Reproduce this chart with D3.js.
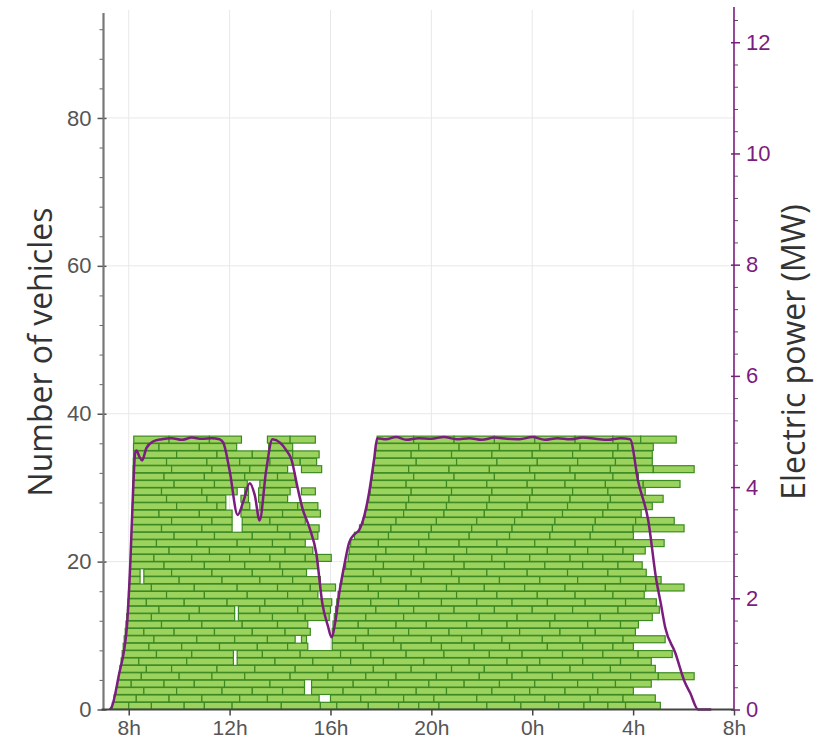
<!DOCTYPE html>
<html>
<head>
<meta charset="utf-8">
<script src="https://cdn.jsdelivr.net/npm/d3@7/dist/d3.min.js"></script>
<style>
  html, body { margin: 0; padding: 0; background: #fff; }
  svg { display: block; }
</style>
</head>
<body>
<svg id="chart" width="840" height="746"></svg>
<script>
// ---------- DATA ----------
// hour ticks (hours since midnight of day 1; >24 = next day)
const hourTicks = [8, 12, 16, 20, 24, 28, 32];
const hourLabels = ["8h", "12h", "16h", "20h", "0h", "4h", "8h"];
const vehicleTicks = [0, 20, 40, 60, 80];
const powerTicks = [0, 2, 4, 6, 8, 10, 12];

// each row = one vehicle slot; each run = consecutive charging sessions (breakpoints in hours)
const vehicleRows = [
  [[7.35, 8.0, 8.9, 10.2, 11.0, 12.1, 14.05, 15.6, 16.25, 17.5, 18.7, 19.5, 20.3, 22.2, 23.55, 25.05, 26.05, 27.0, 27.7, 29.08]],
  [[7.42, 8.3, 9.6, 10.9, 12.4, 13.5, 15.55], [16.0, 17.2, 18.9, 20.1, 21.8, 23.3, 24.5, 26.3, 27.6, 28.88]],
  [[7.5, 8.6, 9.9, 11.7, 12.9, 14.1, 14.97], [15.25, 16.5, 17.8, 19.4, 20.6, 22.4, 23.9, 25.3, 26.6, 28.01]],
  [[7.56, 8.1, 9.4, 10.6, 11.8, 13.6, 14.97], [15.25, 16.9, 18.3, 19.9, 21.3, 22.7, 24.1, 25.8, 27.3, 28.72]],
  [[7.6, 8.5, 10.0, 11.3, 12.6, 14.4, 15.9, 17.4, 18.6, 20.2, 21.9, 23.2, 24.8, 26.4, 27.9, 29.0, 30.42]],
  [[7.65, 8.7, 9.7, 11.5, 13.0, 14.6, 16.1, 17.7, 19.2, 20.8, 22.1, 23.8, 25.5, 27.1, 28.88]],
  [[7.7, 8.4, 10.3, 12.15], [12.3, 13.8, 15.3, 16.8, 18.1, 19.7, 21.5, 23.0, 24.3, 26.0, 27.5, 28.72]],
  [[7.74, 9.1, 10.5, 12.15], [12.3, 13.3, 14.8, 16.4, 17.6, 19.0, 20.5, 22.3, 23.6, 25.2, 26.8, 28.2, 29.55]],
  [[7.78, 8.8, 10.1, 11.6, 13.1, 14.3, 15.1], [16.07, 17.3, 18.8, 20.4, 21.7, 23.1, 24.6, 26.0, 27.2, 28.01]],
  [[7.82, 9.0, 10.7, 12.2, 13.5, 14.6], [14.85, 15.05], [16.07, 17.0, 18.5, 20.0, 21.2, 22.8, 24.4, 25.9, 27.6, 29.27]],
  [[7.86, 8.6, 9.8, 11.4, 12.9, 14.2, 15.2], [16.07, 17.5, 19.1, 20.7, 22.0, 23.5, 25.1, 26.5, 28.09]],
  [[7.89, 9.3, 10.9, 12.5, 13.9, 15.1], [16.1, 17.1, 18.6, 19.8, 21.4, 23.0, 24.7, 26.2, 27.5, 28.21]],
  [[7.92, 8.9, 10.4, 12.2], [12.35, 13.7, 15.0, 15.95], [16.15, 17.4, 18.9, 20.3, 21.9, 23.4, 24.9, 26.7, 28.76]],
  [[7.95, 9.2, 10.8, 12.2], [12.35, 13.2, 14.7, 16.0], [16.2, 17.8, 19.3, 20.9, 22.5, 24.0, 25.6, 27.4, 29.04]],
  [[7.97, 8.7, 10.2, 11.9, 13.4, 14.9, 16.05], [16.25, 17.6, 18.7, 20.4, 21.8, 23.2, 24.6, 26.1, 27.7, 28.92]],
  [[7.99, 9.5, 11.0, 12.7, 14.3, 15.5], [16.3, 17.9, 19.5, 21.0, 22.6, 24.2, 25.7, 27.2, 28.44]],
  [[8.01, 8.9, 10.6, 12.3, 13.9, 15.2, 16.2], [16.38, 17.5, 19.0, 20.6, 22.1, 23.7, 25.3, 26.9, 28.5, 30.02]],
  [[8.03, 8.45], [8.6, 10.0, 11.7, 13.2, 14.5, 15.6], [16.45, 18.0, 19.6, 21.1, 22.7, 24.3, 25.8, 27.5, 29.11]],
  [[8.04, 8.45], [8.6, 9.7, 11.3, 12.9, 14.1, 15.05], [16.5, 17.7, 19.2, 20.8, 22.2, 23.8, 25.4, 27.0, 28.52]],
  [[8.06, 9.4, 11.0, 12.6, 14.0, 15.5], [16.6, 18.1, 19.7, 21.3, 22.9, 24.5, 26.0, 27.4, 28.36]],
  [[8.07, 9.0, 10.5, 12.0, 13.6, 15.0, 16.03], [16.7, 17.8, 19.3, 20.9, 22.4, 23.9, 25.5, 26.8, 28.01]],
  [[8.08, 9.6, 11.2, 12.8, 14.2, 15.3], [16.74, 18.2, 19.8, 21.4, 23.0, 24.6, 26.2, 27.6, 28.48]],
  [[8.09, 9.1, 10.7, 12.3, 13.7, 15.0], [16.8, 17.9, 19.5, 21.1, 22.6, 24.1, 25.7, 27.3, 29.23]],
  [[8.1, 9.8, 11.4, 12.9, 14.4, 15.5], [16.95, 18.3, 19.9, 21.5, 23.1, 24.7, 26.3, 28.01]],
  [[8.11, 9.3, 10.9, 12.1], [12.5, 13.9, 15.55], [17.15, 18.4, 20.0, 21.6, 23.2, 24.8, 26.4, 28.0, 30.02]],
  [[8.12, 9.7, 11.3, 12.1], [12.5, 13.6, 15.0], [17.3, 18.6, 20.2, 21.8, 23.3, 24.9, 26.5, 28.1, 29.63]],
  [[8.13, 9.2, 10.8, 12.1], [12.45, 14.1, 15.6], [17.38, 18.9, 20.5, 22.1, 23.6, 25.2, 26.8, 28.32]],
  [[8.14, 9.9, 11.5, 11.85], [12.5, 12.8], [13.2, 14.7, 15.5], [17.45, 19.0, 20.6, 22.2, 23.8, 25.4, 27.0, 28.76]],
  [[8.15, 9.5, 11.1, 11.85], [12.45, 12.75], [13.15, 14.3], [17.52, 19.1, 20.7, 22.3, 23.9, 25.5, 27.1, 29.19]],
  [[8.15, 9.3, 10.9, 12.3], [12.6, 12.75], [13.15, 14.4], [14.85, 15.4], [17.58, 19.2, 20.8, 22.4, 24.0, 25.6, 27.0, 28.48]],
  [[8.16, 9.8, 11.4, 12.7], [13.2, 14.65], [17.62, 19.0, 20.6, 22.2, 23.8, 25.3, 26.9, 28.4, 29.86]],
  [[8.17, 9.4, 11.0, 12.6, 13.9, 14.6], [17.66, 19.3, 20.9, 22.5, 24.1, 25.7, 27.2, 28.21]],
  [[8.17, 9.7, 11.3, 12.8, 14.3], [14.85, 15.65], [17.7, 19.1, 20.7, 22.3, 23.9, 25.5, 27.1, 28.8, 30.42]],
  [[8.18, 9.5, 11.1, 12.4, 13.6, 14.8, 15.45], [17.73, 19.4, 21.0, 22.6, 24.2, 25.8, 27.3, 28.76]],
  [[8.19, 9.9, 11.5, 12.9, 14.5, 15.55], [17.76, 19.2, 20.8, 22.4, 24.0, 25.6, 27.2, 28.76]],
  [[8.19, 9.2, 10.8, 12.28], [13.55, 14.5], [17.8, 19.5, 21.1, 22.7, 24.3, 25.9, 27.4, 28.8]],
  [[8.2, 9.6, 11.2, 12.47], [13.5, 14.4, 15.4], [17.85, 19.3, 20.9, 22.5, 24.1, 25.7, 27.2, 28.3, 29.71]]
];

// electric power curve (MW)
const powerHours = [7.25, 7.33, 7.6, 7.93, 8.06, 8.18, 8.25, 8.31, 8.42, 8.53, 8.7, 8.96,
  9.3, 9.7, 10.1, 10.5, 10.9, 11.3, 11.6, 11.75, 12.0, 12.32, 12.55, 12.8, 13.0, 13.19,
  13.45, 13.7, 14.0, 14.25, 14.45, 14.69, 14.9, 15.16, 15.44, 15.68, 15.9, 16.04, 16.2,
  16.35, 16.55, 16.74, 16.95, 17.14, 17.35, 17.53, 17.73, 17.85, 18.2, 18.6, 19.0, 19.5,
  20.0, 20.5, 21.0, 21.5, 22.0, 22.5, 23.0, 23.5, 24.0, 24.5, 25.0, 25.5, 26.0, 26.5,
  27.0, 27.5, 27.88, 28.2, 28.6, 28.92, 29.1, 29.27, 29.67, 30.06, 30.26, 30.58, 31.1];
const powerMW = [0, 0.05, 0.6, 1.5, 2.6, 4.0, 4.6, 4.66, 4.55, 4.48, 4.7, 4.82,
  4.86, 4.88, 4.85, 4.89, 4.87, 4.88, 4.86, 4.8, 4.3, 3.5, 3.75, 4.07, 3.85, 3.4,
  4.3, 4.86, 4.8, 4.66, 4.5, 4.0, 3.6, 3.28, 2.8, 1.9, 1.5, 1.3, 1.6,
  2.1, 2.6, 3.0, 3.15, 3.23, 3.5, 3.9, 4.5, 4.88, 4.86, 4.9, 4.85, 4.88,
  4.87, 4.9, 4.86, 4.88, 4.85, 4.89, 4.87, 4.86, 4.9, 4.85, 4.88, 4.86, 4.89, 4.87,
  4.85, 4.88, 4.86, 4.1, 3.4, 2.33, 1.9, 1.48, 1.02, 0.48, 0.3, 0, 0];

// ---------- CHART ----------
const svg = d3.select("#chart");
const mLeft = 103.5, mRight = 734, mTop = 10, mBottom = 709.5;
const x = d3.scaleLinear().domain([7, 32]).range([mLeft, mRight]);
const yL = d3.scaleLinear().domain([0, 94.6]).range([mBottom, mTop]);
const yR = d3.scaleLinear().domain([0, 12.58]).range([mBottom, mTop]);
const purple = "#7b1d7f";
const font = "'Liberation Sans', Arial, sans-serif";

// grid
const grid = svg.append("g");
grid.selectAll("line.v").data(hourTicks.slice(0, -1)).join("line")
  .attr("x1", d => x(d)).attr("x2", d => x(d))
  .attr("y1", mTop).attr("y2", mBottom)
  .attr("stroke", "#e8e8e8").attr("stroke-width", 1);
grid.selectAll("line.h").data(vehicleTicks.slice(1)).join("line")
  .attr("x1", mLeft).attr("x2", mRight)
  .attr("y1", d => yL(d)).attr("y2", d => yL(d))
  .attr("stroke", "#e8e8e8").attr("stroke-width", 1);

// bars
const bars = [];
vehicleRows.forEach((runs, r) => {
  runs.forEach(run => {
    for (let i = 0; i < run.length - 1; i++) bars.push({ r, s: run[i], e: run[i + 1] });
  });
});
svg.append("g").selectAll("rect").data(bars).join("rect")
  .attr("x", d => x(d.s))
  .attr("width", d => x(d.e) - x(d.s))
  .attr("y", d => yL(d.r + 0.97))
  .attr("height", d => yL(d.r + 0.03) - yL(d.r + 0.97))
  .attr("fill", "#9cd35e")
  .attr("stroke", "#3c8a22")
  .attr("stroke-width", 1.2);

// power line
const pts = powerHours.map((h, i) => [h, powerMW[i]]);
svg.append("path").datum(pts)
  .attr("d", d3.line().x(d => x(d[0])).y(d => yR(d[1])).curve(d3.curveMonotoneX))
  .attr("fill", "none").attr("stroke", purple).attr("stroke-width", 2.5);

// left axis
const gL = svg.append("g").attr("transform", `translate(${mLeft},0)`);
gL.call(d3.axisLeft(yL).tickValues(d3.range(4, 94, 4).filter(v => v % 20 !== 0)).tickSize(4).tickFormat(""));
gL.selectAll(".tick line").attr("stroke", "#666");
const gL2 = svg.append("g").attr("transform", `translate(${mLeft},0)`);
gL2.call(d3.axisLeft(yL).tickValues(vehicleTicks).tickSize(6).tickPadding(6).tickFormat(d3.format("d")));
gL2.selectAll(".tick line").attr("stroke", "#555").attr("stroke-width", 1.5).attr("x2", -6).attr("x1", 3);
gL2.selectAll(".tick text").attr("font-family", font).attr("font-size", 22).attr("fill", "#555");
svg.selectAll(".domain").remove();
svg.append("line").attr("x1", mLeft).attr("x2", mLeft).attr("y1", 13).attr("y2", mBottom)
  .attr("stroke", "#777").attr("stroke-width", 2.2);

// right axis
const gR = svg.append("g").attr("transform", `translate(${mRight},0)`);
gR.call(d3.axisRight(yR).tickValues(d3.range(0.4, 12.6, 0.4).filter(v => Math.abs(v / 2 - Math.round(v / 2)) > 0.01)).tickSize(4).tickFormat(""));
gR.selectAll(".tick line").attr("stroke", "#555");
const gR2 = svg.append("g").attr("transform", `translate(${mRight},0)`);
gR2.call(d3.axisRight(yR).tickValues(powerTicks).tickSize(6).tickPadding(6).tickFormat(d3.format("d")));
gR2.selectAll(".tick line").attr("stroke", purple).attr("stroke-width", 1.5).attr("x1", -3);
gR2.selectAll(".tick text").attr("font-family", font).attr("font-size", 22).attr("fill", purple);
svg.selectAll(".domain").remove();
svg.append("line").attr("x1", mRight).attr("x2", mRight).attr("y1", 7).attr("y2", mBottom)
  .attr("stroke", purple).attr("stroke-width", 1.6);

// bottom axis
const gB = svg.append("g").attr("transform", `translate(0,${mBottom})`);
gB.call(d3.axisBottom(x).tickValues(hourTicks).tickSize(6).tickPadding(5)
  .tickFormat((d, i) => hourLabels[i]));
gB.select(".domain").remove();
gB.selectAll(".tick line").attr("stroke", "#444").attr("stroke-width", 1.5);
gB.selectAll(".tick text").attr("font-family", font).attr("font-size", 21).attr("fill", "#555");
svg.append("line").attr("x1", mLeft - 2).attr("x2", mRight).attr("y1", mBottom).attr("y2", mBottom)
  .attr("stroke", "#444").attr("stroke-width", 2);

// axis titles
svg.append("text")
  .attr("transform", "translate(52,352) rotate(-90)")
  .attr("text-anchor", "middle")
  .attr("font-family", "'Open Sans', sans-serif").attr("font-size", 32)
  .attr("fill", "#333")
  .text("Number of vehicles");
svg.append("text")
  .attr("transform", "translate(805,352) rotate(-90)")
  .attr("text-anchor", "middle")
  .attr("font-family", "'Open Sans', sans-serif").attr("font-size", 32)
  .attr("fill", "#333")
  .text("Electric power (MW)");
</script>
</body>
</html>
